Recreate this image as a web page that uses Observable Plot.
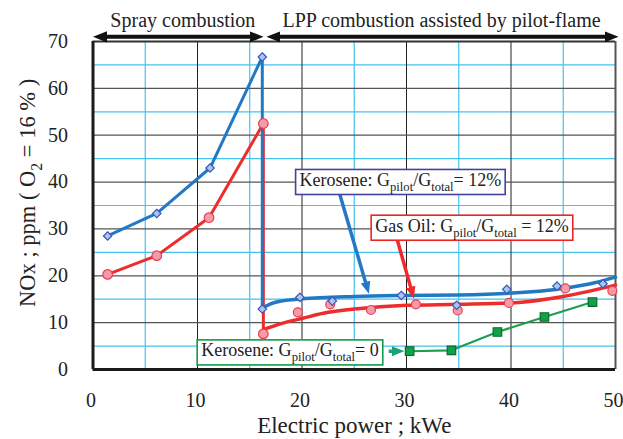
<!DOCTYPE html>
<html>
<head>
<meta charset="utf-8">
<script src="https://cdn.jsdelivr.net/npm/d3@7"></script>
<script src="https://cdn.jsdelivr.net/npm/@observablehq/plot@0.6"></script>
<style>
  html, body { margin: 0; padding: 0; background: white; }
</style>
</head>
<body>
<div id="chart"></div>
<script>
// ---- data ----
const xTicks = [0, 10, 20, 30, 40, 50];
const yTicks = [0, 10, 20, 30, 40, 50, 60, 70];
const gridMajorX = [10, 20, 30, 40];
const gridMinorX = [5, 15, 25, 35, 45];
const gridMajorY = [10, 20, 30, 40, 50, 60];
const gridMinorY = [5, 15, 25, 35, 45, 55, 65];

// Kerosene, Gpilot/Gtotal = 12% : spray regime (with drop at switch-over)
const keroSprayX = [1.4, 6.1, 11.2, 16.2, 16.2];
const keroSprayY = [28.5, 33.3, 43.0, 66.7, 12.9];
// LPP regime measured points
const keroLppX = [19.8, 22.9, 29.5, 34.8, 39.6, 44.4, 48.8];
const keroLppY = [15.4, 14.6, 15.8, 13.7, 17.1, 17.8, 18.3];
// LPP trend curve
const keroFitX = [16.2, 17.0, 18.0, 20.0, 25.0, 30.0, 35.0, 40.0, 45.0, 48.0, 50.0];
const keroFitY = [13.1, 14.0, 14.6, 15.1, 15.6, 15.8, 15.9, 16.3, 17.3, 18.5, 19.7];

// Gas oil, Gpilot/Gtotal = 12%
const gasSprayX = [1.4, 6.1, 11.1, 16.3, 16.3];
const gasSprayY = [20.3, 24.3, 32.4, 52.5, 7.6];
const gasLppX = [19.6, 22.7, 26.6, 30.9, 34.9, 39.8, 45.2, 49.7];
const gasLppY = [12.2, 13.9, 12.7, 13.9, 12.6, 14.2, 17.3, 16.8];
const gasFitX = [16.3, 18.0, 20.0, 22.5, 25.0, 30.0, 35.0, 40.0, 45.0, 50.0];
const gasFitY = [8.5, 9.8, 10.9, 12.2, 12.9, 13.7, 13.9, 14.2, 15.6, 18.0];

// Kerosene, Gpilot/Gtotal = 0
const kero0X = [30.3, 34.3, 38.7, 43.2, 47.8];
const kero0Y = [3.9, 4.1, 8.0, 11.2, 14.4];

// regime labels (top)
const regimeLabels = ["Spray combustion", "LPP combustion assisted by pilot-flame"];
const regimeLabelX = [8.6, 33.35];
const regimeLabelY = [73.2, 73.2];
const regimeArrowX1 = [0.67, 17.27];
const regimeArrowX2 = [15.65, 49.62];
const regimeArrowY = [71.0, 71.0];

// annotation boxes
const annLabels = ["Kerosene: G_{pilot}/G_{total}= 12%", "Gas Oil: G_{pilot}/G_{total} = 12%", "Kerosene: G_{pilot}/G_{total}= 0"];
const annX = [19.77, 27.0, 10.35];
const annY = [40.4, 30.64, 4.03];
const annColor = ["#43439f", "#ee2424", "#139a48"];
// annotation arrows
const annArrowX1 = [23.6, 29.1, 28.3];
const annArrowY1 = [37.5, 27.8, 3.9];
const annArrowX2 = [26.24, 30.55, 29.2];
const annArrowY2 = [17.4, 16.35, 3.9];
const annArrowColor = ["#2379c6", "#ee2a2a", "#1aa07a"];

const zip = (xs, ys) => xs.map((x, i) => ({x, y: ys[i]}));
const regimes = regimeLabels.map((t, i) => ({t, x: regimeLabelX[i], y: regimeLabelY[i], x1: regimeArrowX1[i], x2: regimeArrowX2[i], ya: regimeArrowY[i]}));
const anns = annLabels.map((t, i) => ({t, x: annX[i], y: annY[i], c: annColor[i]}));
const annArrows = annArrowX1.map((x1, i) => ({x1, y1: annArrowY1[i], x2: annArrowX2[i], y2: annArrowY2[i], c: annArrowColor[i]}));

function filledArrow(color) {
  const m = d3.create("svg:marker")
    .attr("viewBox", "-5 -5 10 10")
    .attr("markerWidth", 3.5)
    .attr("markerHeight", 3.5)
    .attr("orient", "auto-start-reverse")
    .attr("fill", color)
    .attr("stroke", "none");
  m.append("path").attr("d", "M-5,-4L5,0L-5,4Z");
  return m.node();
}

const CYAN = "#45c3f0";
const BLUE = "#2178c4";
const RED = "#ee2c2c";
const GREEN = "#1aa050";

const plot = Plot.plot({
  width: 623,
  height: 439,
  marginLeft: 92.5,
  marginRight: 8,
  marginTop: 41,
  marginBottom: 70,
  style: {fontFamily: "'Liberation Serif', 'Times New Roman', serif", fontSize: "20px", background: "white", color: "#222"},
  x: {domain: [0, 50], ticks: xTicks, tickSize: 0, tickPadding: 23, label: null},
  y: {domain: [0, 70], ticks: yTicks, tickSize: 0, tickPadding: 25, label: null},
  marks: [
    // grid
    Plot.ruleX(gridMinorX, {stroke: CYAN, strokeWidth: 1.2}),
    Plot.ruleY(gridMinorY, {stroke: CYAN, strokeWidth: 1.2}),
    Plot.ruleX(gridMajorX, {stroke: "#222", strokeWidth: 1}),
    Plot.ruleY(gridMajorY, {stroke: "#555", strokeWidth: 1.3}),
    // frame
    Plot.ruleY([70], {stroke: "#333", strokeWidth: 1.8}),
    Plot.ruleX([50], {stroke: "#555", strokeWidth: 2}),
    Plot.ruleX([0], {stroke: "#1a1a1a", strokeWidth: 3}),
    Plot.ruleY([0], {stroke: "#1a1a1a", strokeWidth: 3}),
    // spray lines
    Plot.line(zip(gasSprayX, gasSprayY), {x: "x", y: "y", stroke: RED, strokeWidth: 3}),
    Plot.line(zip(keroSprayX, keroSprayY), {x: "x", y: "y", stroke: BLUE, strokeWidth: 3}),
    // LPP trend curves
    Plot.line(zip(gasFitX, gasFitY), {x: "x", y: "y", stroke: RED, strokeWidth: 3.5, curve: "monotone-x"}),
    Plot.line(zip(keroFitX, keroFitY), {x: "x", y: "y", stroke: BLUE, strokeWidth: 3.5, curve: "monotone-x"}),
    Plot.line(zip(kero0X, kero0Y), {x: "x", y: "y", stroke: GREEN, strokeWidth: 2.2}),
    // markers
    Plot.dot(zip(gasSprayX, gasSprayY), {x: "x", y: "y", r: 4.8, fill: "#f59aaa", stroke: "#e8404e", strokeWidth: 1.2}),
    Plot.dot(zip(gasLppX, gasLppY), {x: "x", y: "y", r: 4.5, fill: "#f59aaa", stroke: "#e8404e", strokeWidth: 1.2}),
    Plot.dot(zip(keroSprayX, keroSprayY), {x: "x", y: "y", r: 3.8, symbol: "diamond2", fill: "#a9c6f0", stroke: "#3b55b8", strokeWidth: 1.2}),
    Plot.dot(zip(keroLppX, keroLppY), {x: "x", y: "y", r: 3.8, symbol: "diamond2", fill: "#a9c6f0", stroke: "#3b55b8", strokeWidth: 1.2}),
    Plot.dot(zip(kero0X, kero0Y), {x: "x", y: "y", r: 4.8, symbol: "square", fill: "#12a048", stroke: "#0a6a30", strokeWidth: 1.2}),
    // regime arrows + labels
    Plot.link(regimes, {x1: "x1", x2: "x2", y1: "ya", y2: "ya", stroke: "#111", strokeWidth: 4, markerStart: filledArrow, markerEnd: filledArrow}),
    Plot.text(regimes, {x: "x", y: "y", text: "t", fontSize: 20, lineAnchor: "bottom", fill: "#222"}),
    // annotation arrows
    Plot.link(annArrows, {x1: "x1", y1: "y1", x2: "x2", y2: "y2", stroke: "c", strokeWidth: 3.5, markerEnd: filledArrow}),
    // annotation texts (boxes added after render)
    Plot.text(anns, {x: "x", y: "y", text: "t", fontSize: 18, textAnchor: "start", lineAnchor: "middle", fill: "#222"}),
    // axis titles
    Plot.text(["Electric power ; kWe"], {x: 25, frameAnchor: "bottom", dy: 56, fontSize: 23, textAnchor: "middle", lineAnchor: "middle", fill: "#222"}),
    Plot.text(["NOx ; ppm ( O_{2} = 16 % )"], {y: 37.7, frameAnchor: "left", dx: -65, rotate: -90, fontSize: 22.5, textAnchor: "middle", lineAnchor: "middle", fill: "#222"})
  ]
});
document.getElementById("chart").appendChild(plot);

// shift x tick labels slightly left as in the reference
d3.select(plot).selectAll("g[aria-label='x-axis tick label'] text").attr("dx", -2);

// post-process: subscripts and annotation boxes
const colorByLabel = new Map(anns.map(a => [a.t, a.c]));
d3.select(plot).selectAll("text").each(function () {
  const raw = this.textContent;
  if (!raw.includes("_{")) return;
  const fs = parseFloat(getComputedStyle(this).fontSize) || 18;
  const subFs = fs * 0.7, shift = fs * 0.28;
  const parts = raw.split(/_\{([^}]*)\}/);
  this.textContent = "";
  let inSub = false;
  parts.forEach((p, i) => {
    if (p === "") return;
    const ts = d3.select(this).append("tspan").text(p);
    if (i % 2 === 1) { ts.attr("font-size", subFs).attr("dy", shift); inSub = true; }
    else if (inSub) { ts.attr("dy", -shift); inSub = false; }
  });
  const c = colorByLabel.get(raw);
  if (c) {
    const bb = this.getBBox();
    const r = document.createElementNS("http://www.w3.org/2000/svg", "rect");
    r.setAttribute("x", bb.x - 4);
    r.setAttribute("y", bb.y - 0.5);
    r.setAttribute("width", bb.width + 8);
    r.setAttribute("height", bb.height + 1);
    r.setAttribute("fill", "white");
    r.setAttribute("stroke", c);
    r.setAttribute("stroke-width", 1.6);
    const tr = this.getAttribute("transform");
    if (tr) r.setAttribute("transform", tr);
    this.parentNode.insertBefore(r, this);
  }
});
</script>
</body>
</html>
